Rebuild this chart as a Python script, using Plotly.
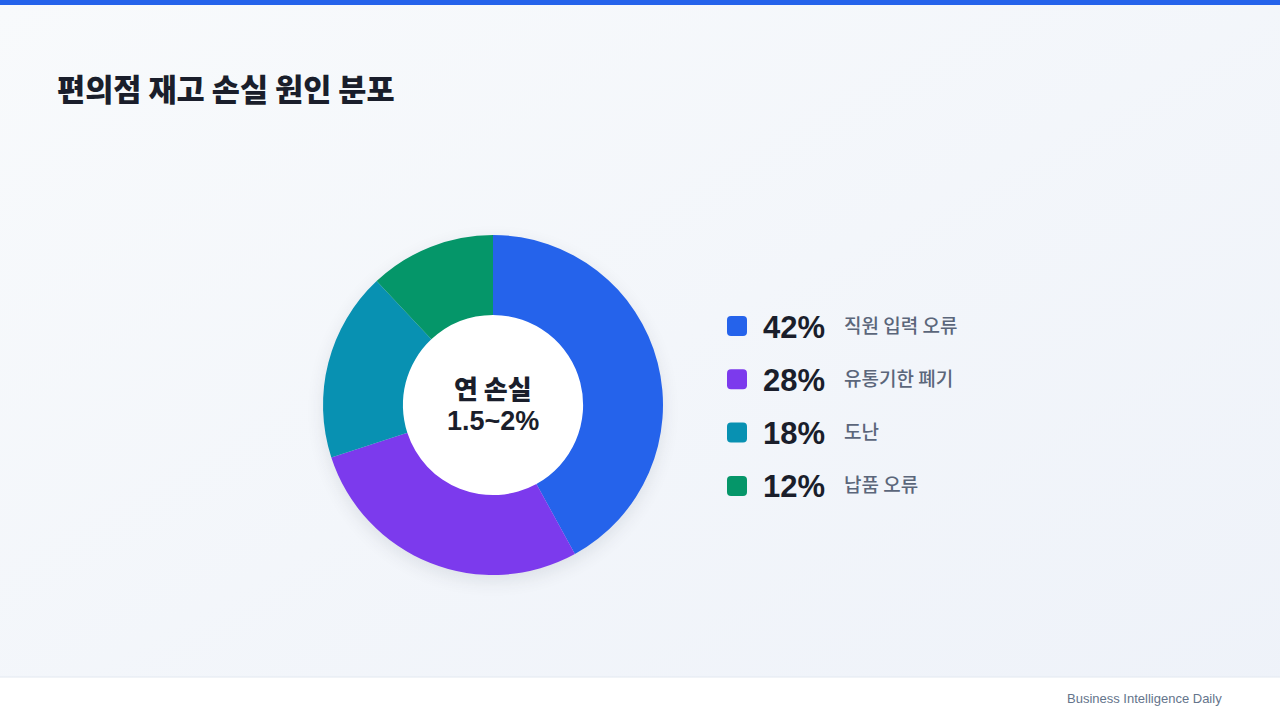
import base64
import plotly.graph_objects as go

# ---- data ----
categories = ["직원 입력 오류", "유통기한 폐기", "도난", "납품 오류"]
shares = [42, 28, 18, 12]
colors = ["#2563eb", "#7c3aed", "#0891b2", "#059669"]
title_text = "편의점 재고 손실 원인 분포"
center_lines = ["연 손실", "1.5~2%"]
footer_text = "Business Intelligence Daily"

W, H = 1280, 720
cx, cy, R = 493, 405, 170  # donut center / radius in px
hole = 0.53

# background gradient + donut soft shadow + white hole (SVG)
svg = f'''<svg xmlns="http://www.w3.org/2000/svg" width="{W}" height="{H}" viewBox="0 0 {W} {H}">
<defs><linearGradient id="g" x1="0" y1="0" x2="1" y2="1">
<stop offset="0" stop-color="#f8fafc"/><stop offset="1" stop-color="#eef2f9"/></linearGradient>
<filter id="b" x="-50%" y="-50%" width="200%" height="200%"><feGaussianBlur stdDeviation="9"/></filter></defs>
<rect width="{W}" height="{H}" fill="url(#g)"/>
<circle cx="{cx}" cy="{cy+6}" r="{R}" fill="#1e293b" opacity="0.10" filter="url(#b)"/>
<circle cx="{cx}" cy="{cy}" r="{R*hole+2}" fill="#ffffff"/>
</svg>'''
bg_uri = "data:image/svg+xml;base64," + base64.b64encode(svg.encode()).decode()

fig = go.Figure()

fig.add_trace(go.Pie(
    values=shares, labels=categories, hole=hole, sort=False,
    direction="clockwise", rotation=0,
    marker=dict(colors=colors, line=dict(width=0)),
    textinfo="none", hoverinfo="label+percent", showlegend=False,
    domain=dict(x=[(cx - R) / W, (cx + R) / W],
                y=[(H - cy - R) / H, (H - cy + R) / H]),
))

# hidden pixel axes for text layout
fig.add_trace(go.Scatter(x=[0, W], y=[0, H], mode="markers",
                         marker=dict(opacity=0), hoverinfo="skip", showlegend=False))

shapes = []
annotations = []

# top bar
shapes.append(dict(type="rect", xref="x", yref="y", x0=0, x1=W, y0=0, y1=5,
                   fillcolor="#2563eb", line=dict(width=0), layer="above"))
# footer
shapes.append(dict(type="rect", xref="x", yref="y", x0=0, x1=W, y0=677, y1=H,
                   fillcolor="#ffffff", line=dict(width=0), layer="below"))
shapes.append(dict(type="line", xref="x", yref="y", x0=0, x1=W, y0=677, y1=677,
                   line=dict(color="#e2e8f0", width=1), layer="below"))

annotations.append(dict(x=55, y=88, xref="x", yref="y", text=title_text,
                        showarrow=False, xanchor="left", yanchor="middle",
                        font=dict(family="Noto Sans CJK KR", size=30.6, weight=900, color="#1a1e2b")))
annotations.append(dict(x=1224, y=698, xref="x", yref="y", text=footer_text,
                        showarrow=False, xanchor="right", yanchor="middle",
                        font=dict(family="Liberation Sans, Arial", size=13, color="#64748b")))

# center text
annotations.append(dict(x=cx, y=387, xref="x", yref="y", text=center_lines[0],
                        showarrow=False, xanchor="center", yanchor="middle",
                        font=dict(family="Noto Sans CJK KR", size=26, weight=900, color="#1a1e2b")))
annotations.append(dict(x=cx, y=421, xref="x", yref="y", text=f"<b>{center_lines[1]}</b>",
                        showarrow=False, xanchor="center", yanchor="middle",
                        font=dict(family="Liberation Sans, Arial", size=27, color="#1a1e2b")))

# legend
ly0, ldy = 326, 53.3
for i, (cat, v, c) in enumerate(zip(categories, shares, colors)):
    y = ly0 + i * ldy
    x0, x1, y0, y1, r = 727, 747, y - 10, y + 10, 4
    path = (f"M{x0+r},{y0} L{x1-r},{y0} Q{x1},{y0} {x1},{y0+r} L{x1},{y1-r} "
            f"Q{x1},{y1} {x1-r},{y1} L{x0+r},{y1} Q{x0},{y1} {x0},{y1-r} "
            f"L{x0},{y0+r} Q{x0},{y0} {x0+r},{y0} Z")
    shapes.append(dict(type="path", xref="x", yref="y", path=path,
                       fillcolor=c, line=dict(width=0)))
    annotations.append(dict(x=761, y=y + 1, xref="x", yref="y", text=f"<b>{v}%</b>",
                            showarrow=False, xanchor="left", yanchor="middle",
                            font=dict(family="Liberation Sans, Arial", size=31, color="#1a1e2b")))
    annotations.append(dict(x=842, y=y - 2, xref="x", yref="y", text=cat,
                            showarrow=False, xanchor="left", yanchor="middle",
                            font=dict(family="Noto Sans CJK KR", size=19, weight=500, color="#5b667a")))

fig.update_layout(
    width=W, height=H,
    margin=dict(l=0, r=0, t=0, b=0),
    paper_bgcolor="#f4f6fa", plot_bgcolor="rgba(0,0,0,0)",
    xaxis=dict(range=[0, W], visible=False, fixedrange=True),
    yaxis=dict(range=[H, 0], visible=False, fixedrange=True),
    shapes=shapes, annotations=annotations,
    images=[dict(source=bg_uri, xref="paper", yref="paper", x=0, y=1,
                 sizex=1, sizey=1, sizing="stretch", xanchor="left", yanchor="top",
                 layer="below")],
)

fig.write_html("out.html", config={"displayModeBar": False})
